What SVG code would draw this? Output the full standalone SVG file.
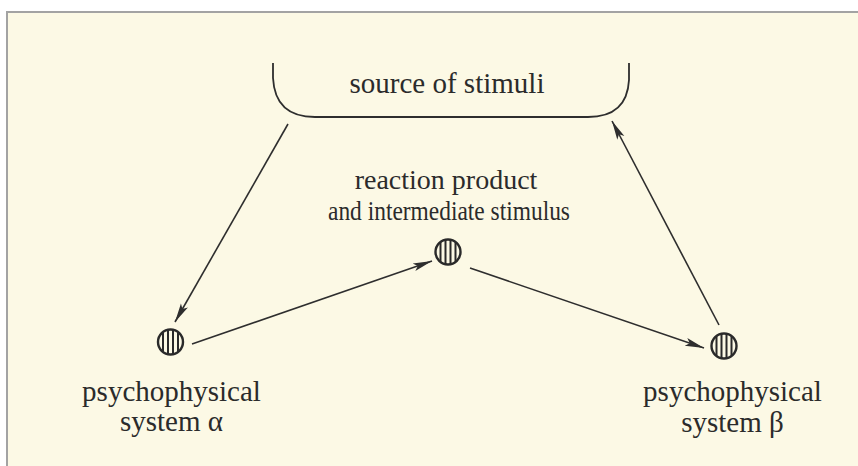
<svg xmlns="http://www.w3.org/2000/svg" width="858" height="466" viewBox="0 0 858 466">
<style>
.t{font-family:"Liberation Serif","Times New Roman",serif;font-size:29px;fill:#2b2b2b;text-anchor:middle}
.c{stroke:#2e2e2e;stroke-width:1.6;fill:none}
</style>
<defs>
<marker id="ah" markerWidth="20" markerHeight="10" refX="19" refY="5" orient="auto" markerUnits="userSpaceOnUse">
<path d="M0,1 L19,5 L0,9 L4,5 Z" fill="#2e2e2e"/>
</marker>
<clipPath id="cc"><circle cx="0" cy="0" r="12"/></clipPath>
<g id="node">
<circle cx="0" cy="0" r="12.5" fill="#fcf9e5" stroke="#2a2a2a" stroke-width="2.4"/>
<g clip-path="url(#cc)" stroke="#2a2a2a" stroke-width="2">
<line x1="-7.5" y1="-14" x2="-7.5" y2="14"/>
<line x1="-2.5" y1="-14" x2="-2.5" y2="14"/>
<line x1="2.5" y1="-14" x2="2.5" y2="14"/>
<line x1="7.5" y1="-14" x2="7.5" y2="14"/>
</g>
</g>
</defs>
<rect x="0" y="0" width="858" height="466" fill="#ffffff"/>
<rect x="7" y="12" width="860" height="470" fill="#fcf9e5" stroke="#a3a3a3" stroke-width="2"/>
<g id="source">
<path d="M273,63 L273,78 Q275,117 315,117 L588,117 Q627,117 629,80 L629,63" fill="none" stroke="#2e2e2e" stroke-width="1.8"/>
<text class="t" x="447" y="93">source of stimuli</text>
</g>
<g id="intermediate">
<use href="#node" x="448" y="252"/>
<text class="t" x="446" y="189" style="font-size:28px">reaction product</text>
<text class="t" x="449" y="220" style="font-size:27px" textLength="242" lengthAdjust="spacingAndGlyphs">and intermediate stimulus</text>
</g>
<g id="alpha">
<use href="#node" x="170.5" y="342"/>
<text class="t" x="171.5" y="401">psychophysical</text>
<text class="t" x="171.5" y="431">system α</text>
</g>
<g id="beta">
<use href="#node" x="724" y="346"/>
<text class="t" x="732.5" y="401">psychophysical</text>
<text class="t" x="732.5" y="432">system β</text>
</g>
<g id="connectors">
<line class="c" x1="288" y1="124" x2="175" y2="322" marker-end="url(#ah)"/>
<line class="c" x1="192" y1="344" x2="432" y2="261" marker-end="url(#ah)"/>
<line class="c" x1="470" y1="268" x2="704" y2="348" marker-end="url(#ah)"/>
<line class="c" x1="719" y1="325" x2="612" y2="121" marker-end="url(#ah)"/>
</g>
</svg>
